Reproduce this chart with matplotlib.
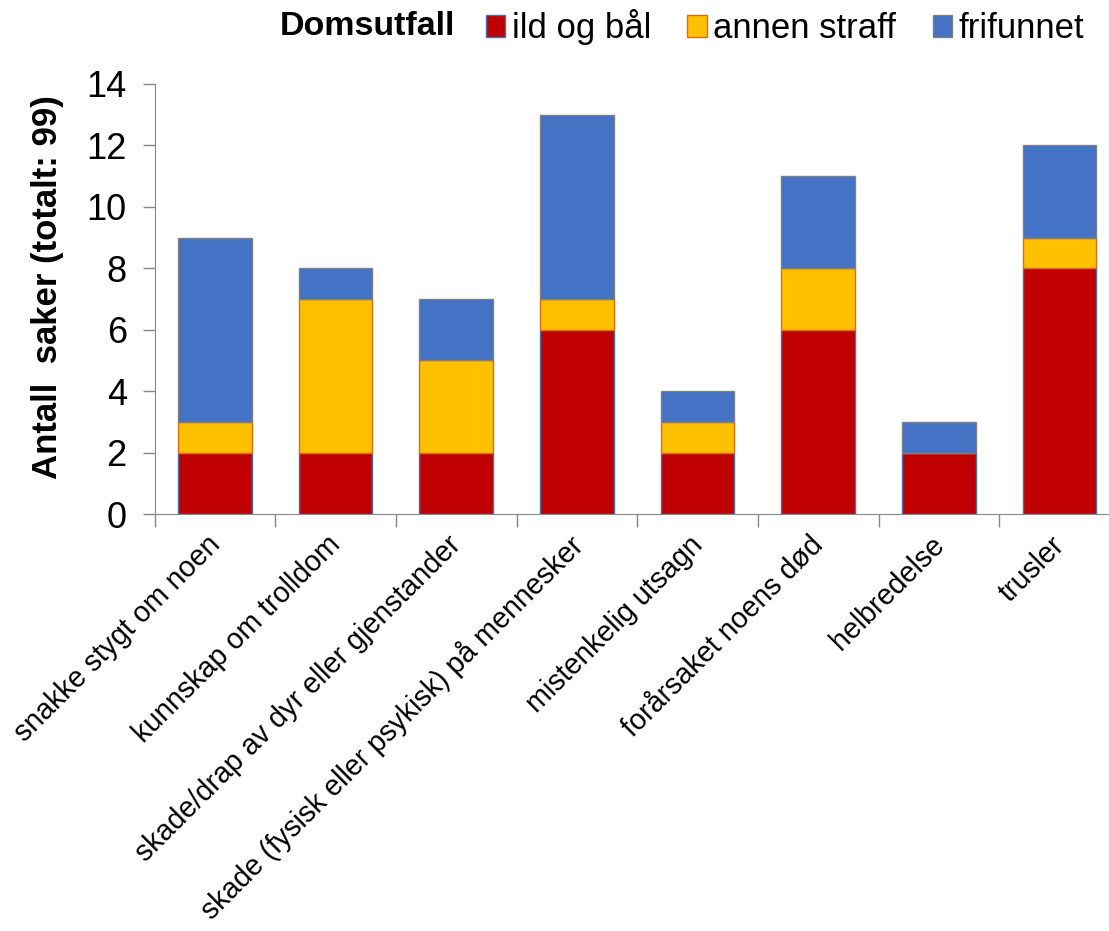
import matplotlib.pyplot as plt
import matplotlib.transforms as mtransforms
import numpy as np

plt.rcParams['font.family'] = ['Liberation Sans', 'DejaVu Sans']

categories = ["snakke stygt om noen", "kunnskap om trolldom",
              "skade/drap av dyr eller gjenstander",
              "skade (fysisk eller psykisk) på mennesker",
              "mistenkelig utsagn", "forårsaket noens død",
              "helbredelse", "trusler"]
ild_og_baal = [2, 2, 2, 6, 2, 6, 2, 8]
annen_straff = [1, 5, 3, 1, 1, 2, 0, 1]
frifunnet = [6, 1, 2, 6, 1, 3, 1, 3]

fig = plt.figure(figsize=(11.09, 9.31), dpi=100)
ax = fig.add_axes([0.1394, 0.4479, 0.8704, 0.4619])

x = np.arange(len(categories))
w = 0.61
red = np.array(ild_og_baal)
yel = np.array(annen_straff)
blu = np.array(frifunnet)

b1 = ax.bar(x, red, w, color='#c00000', edgecolor='#4a6fb0', linewidth=1)
b2 = ax.bar(x, yel, w, bottom=red, color='#ffc000', edgecolor='#e06c10', linewidth=1)
b3 = ax.bar(x, blu, w, bottom=red + yel, color='#4472c4', edgecolor='#808080', linewidth=1)

ax.set_xlim(-0.5, len(categories) - 0.5)
ax.set_ylim(0, 14)
ax.set_yticks(range(0, 15, 2))
ax.tick_params(axis='y', labelsize=26, length=9, color='#888888', width=1, pad=11)
ax.set_xticks(np.arange(-0.5, len(categories), 1))
ax.set_xticklabels([])
ax.tick_params(axis='x', length=9, color='#888888', width=1)
ax.set_xticks(x, minor=True)
ax.set_xticklabels(categories, minor=True, rotation=45, ha='right',
                   rotation_mode='anchor', fontsize=20.6)
ax.tick_params(axis='x', which='minor', length=0, pad=12)
shift = mtransforms.ScaledTranslation(-0.09, 0, fig.dpi_scale_trans)
for lab in ax.get_xticklabels(minor=True):
    lab.set_transform(lab.get_transform() + shift)

for s in ['top', 'right']:
    ax.spines[s].set_visible(False)
for s in ['left', 'bottom']:
    ax.spines[s].set_color('#888888')

ax.set_ylabel("Antall  saker (totalt: 99)", fontsize=25, fontweight='bold')
ax.yaxis.set_label_coords(-0.094, 0.528)

fig.text(0.2525, 0.971, "Domsutfall", fontsize=24.5, fontweight='bold', va='center')
fig.legend([b1, b2, b3], ["ild og bål", "annen straff", "frifunnet"],
           loc='center left', bbox_to_anchor=(0.4253, 0.971), ncol=3, frameon=False,
           fontsize=25, handlelength=0.55, handleheight=0.6, handletextpad=0.2,
           columnspacing=1.05, borderaxespad=0)

fig.savefig("out.png", dpi=100)
